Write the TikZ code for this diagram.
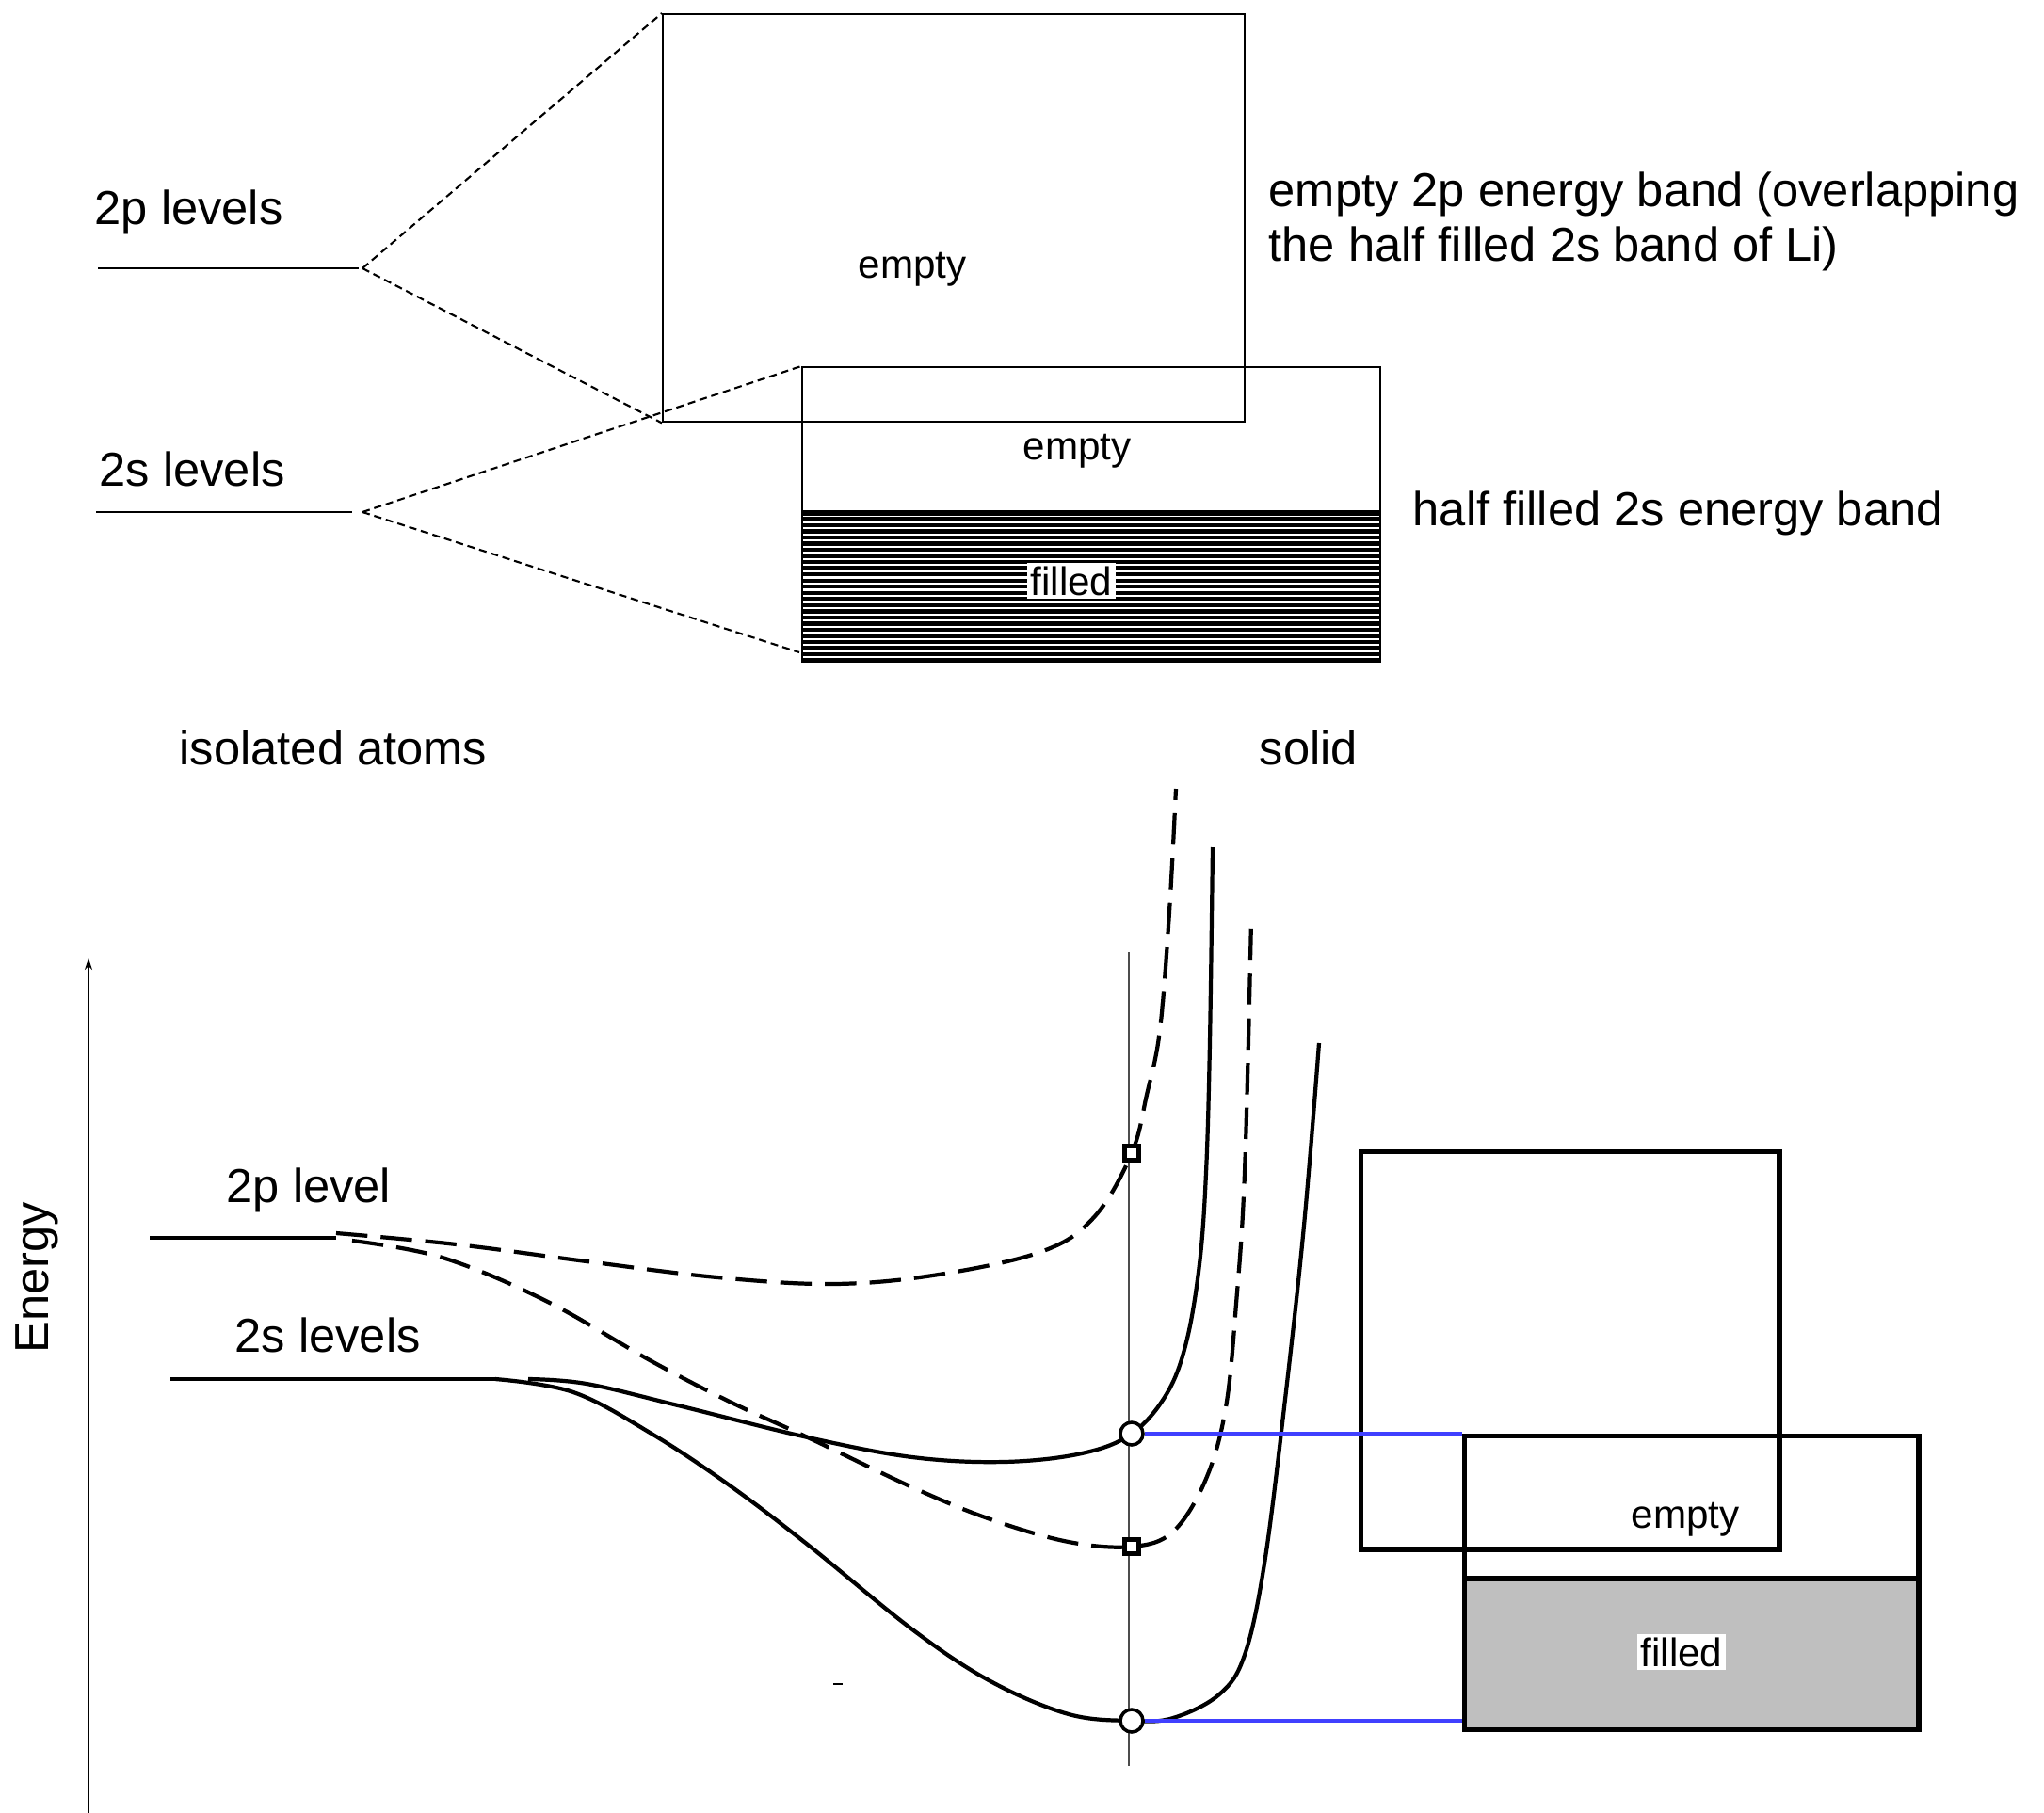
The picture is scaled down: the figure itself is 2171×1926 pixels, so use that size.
\documentclass[tikz,border=0pt]{standalone}
\usepackage{fontspec}
\setmainfont{Liberation Sans}
\usetikzlibrary{arrows.meta,positioning}

\begin{document}
\begin{tikzpicture}[
    x=0.01cm, y=-0.01cm,
    lbl/.style={font=\fontsize{14.4}{16.5}\selectfont, inner sep=0pt, align=left},
    sml/.style={font=\fontsize{12}{14}\selectfont, inner sep=1pt},
    band/.style={draw, line width=0.6pt, inner sep=0pt, anchor=north west},
    bigband/.style={draw, line width=1.5pt, inner sep=0pt, anchor=north west},
    split/.style={line width=0.6pt, dash pattern=on 2.3pt off 1.4pt},
    lvl/.style={line width=0.6pt},
    thicklvl/.style={line width=1.4pt},
    curve/.style={line width=1.2pt},
    dcurve/.style={line width=1.2pt, dash pattern=on 9.5pt off 4pt},
    ring/.style={circle, draw, fill=white, line width=1pt, inner sep=0pt, minimum size=0.24cm},
    sqmark/.style={rectangle, draw, fill=white, line width=1.2pt, inner sep=0pt, minimum size=0.15cm},
    link/.style={line width=1.4pt, color=blue!75}
]
\useasboundingbox (0,0) rectangle (2171,1926);

% --- upper sketch: levels spreading into bands
\coordinate (p2L) at (104,285);
\coordinate (p2R) at (381,285);
\coordinate (p2apex) at (385,285);
\coordinate (s2L) at (102,544);
\coordinate (s2R) at (374,544);
\coordinate (s2apex) at (385,544);
\coordinate (sfoot) at (849,693);

\node[band, minimum width=6.18cm, minimum height=4.33cm] (pband) at (703,14) {};
\node[band, minimum width=6.14cm, minimum height=3.13cm] (sband) at (851,389) {};
\foreach \k in {0,...,24}
    \draw[line width=1.25pt] (851,{545+\k*6.52}) -- (1465,{545+\k*6.52});
\draw[line width=1.5pt] (851,545) -- (1465,545);

\draw[lvl] (p2L) -- (p2R);
\draw[lvl] (s2L) -- (s2R);
\draw[split] (p2apex) -- (pband.north west);
\draw[split] (p2apex) -- (pband.south west);
\draw[split] (s2apex) -- (sband.north west);
\draw[split] (s2apex) -- (sfoot);

\node[lbl, anchor=base west] (p2txt) at (100,238) {2p levels};
\node[lbl, anchor=base west] (s2txt) at (105,516) {2s levels};
\node[sml] (pempty) at (969,286) {empty};
\node[sml] (sempty) at (1144,479) {empty};
\node[sml, fill=white] (sfilled) at (1138,617) {filled};
\node[lbl, anchor=west] (pnote) at (1347,235) {empty 2p energy band (overlapping\\the half filled 2s band of Li)};
\node[lbl, anchor=west] (snote) at (1500,545) {half filled 2s energy band};
\node[lbl, anchor=west] (atoms) at (190,794) {isolated atoms};
\node[lbl, anchor=west] (solid) at (1337,794) {solid};

% --- lower sketch: energy versus spacing
\draw[line width=0.5pt, -{Stealth[length=1.2mm, width=0.8mm]}] (94,1926) -- (94,1018);
\node[lbl, rotate=90] (energy) at (39,1357) {Energy};

\draw[thicklvl] (159,1315) -- (357,1315);
\draw[thicklvl] (181,1465) -- (526,1465);
\node[lbl, anchor=west] (p2lvl) at (240,1264) {2p level};
\node[lbl, anchor=west] (s2lvl) at (249,1418) {2s levels};

\draw[dcurve] plot[smooth, tension=0.6] coordinates {(357,1310) (485,1322) (623,1340) (762,1357) (886,1364) (997,1354) (1108,1329) (1163,1292) (1202,1225) (1218,1163) (1232,1094) (1242,969) (1249,838)};
\draw[dcurve] plot[smooth, tension=0.6] coordinates {(374,1318) (470,1336) (580,1382) (692,1446) (775,1489) (858,1527) (969,1580) (1052,1614) (1135,1638) (1202,1643) (1246,1627) (1281,1571) (1302,1495) (1313,1385) (1322,1246) (1329,976)};
\draw[curve] plot[smooth, tension=0.6] coordinates {(561,1465) (623,1470) (720,1493) (858,1527) (969,1548) (1066,1553) (1149,1544) (1202,1523) (1239,1481) (1260,1426) (1274,1343) (1281,1246) (1285,1108) (1288,900)};
\draw[curve] plot[smooth, tension=0.6] coordinates {(526,1465) (609,1479) (692,1523) (775,1578) (858,1641) (969,1731) (1052,1786) (1135,1821) (1202,1828) (1246,1825) (1295,1800) (1322,1758) (1343,1661) (1364,1495) (1385,1302) (1401,1108)};

\draw[line width=0.5pt, black!70] (1199,1011) -- (1199,1876);
\draw[line width=0.4pt] (885,1789) -- (895,1789);

\node[sqmark] (pq1) at (1202,1225) {};
\node[sqmark] (pq2) at (1202,1643) {};
\node[ring] (sr1) at (1202,1523) {};
\node[ring] (sr2) at (1202,1828) {};

\fill[gray!50] (1553,1677) rectangle (2035,1835);
\node[bigband, minimum width=4.44cm, minimum height=4.22cm] (pbox) at (1443,1221) {};
\node[bigband, minimum width=4.82cm, minimum height=3.12cm] (sbox) at (1553,1523) {};
\draw[line width=1.5pt] (1553,1677) -- (2035,1677);

\draw[link] (sr1.east) -- (sr1.east -| sbox.west);
\draw[link] (sr2.east) -- (sr2.east -| sbox.west);

\node[sml] (bempty) at (1790,1614) {empty};
\node[sml, fill=white] (bfilled) at (1786,1755) {filled};
\end{tikzpicture}
\end{document}
